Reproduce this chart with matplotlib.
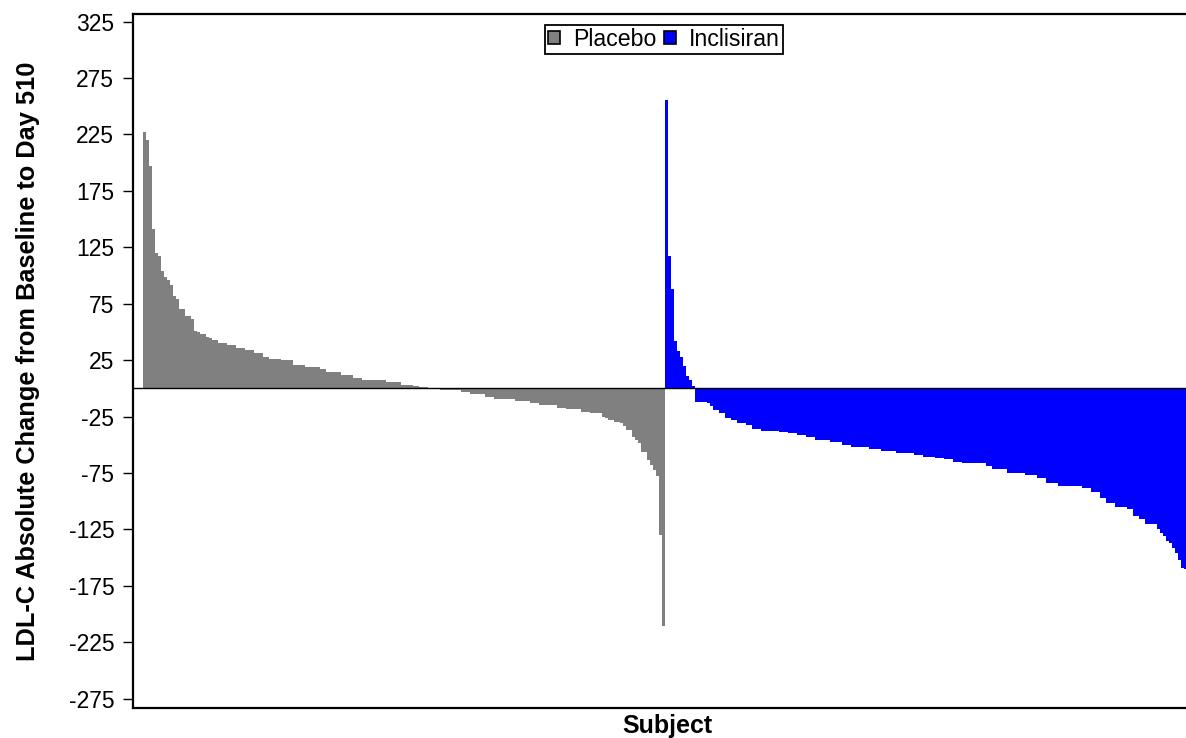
import matplotlib
matplotlib.use("Agg")
import matplotlib.pyplot as plt
from matplotlib.patches import Patch

plt.rcParams['font.family'] = ['Liberation Sans', 'DejaVu Sans']

groups = ["Placebo", "Inclisiran"]
colors = {"Placebo": "#808080", "Inclisiran": "#0000FF"}

placebo = [
    227, 220, 197, 141, 120, 117, 104, 99, 96, 92,
    82, 79, 70, 70, 64, 64, 61, 51, 50, 48,
    48, 45.5, 45, 43, 43, 40, 40, 40, 38, 38,
    38, 36, 36, 36, 34, 34, 34, 31, 31, 31,
    28, 28, 26, 26, 26, 26, 25, 25, 25, 25,
    21, 21, 21, 21, 19, 18.6, 18.6, 18.6, 18.6, 17,
    17, 14.5, 14.5, 14.5, 14.5, 14.5, 12, 12, 12, 12,
    9, 9, 9, 7, 7, 7, 7, 7, 7, 7,
    7, 6, 6, 6, 6, 6, 3, 3, 3, 3,
    1.8, 1.8, 1.5, 1, 1, -0.5, -0.5, -0.5, -0.5, -1.2,
    -1.2, -1.2, -1.2, -1.2, -1.2, -1.2, -3, -3, -3, -5.4,
    -5.4, -5.4, -5.4, -5.4, -7.5, -7.5, -7.5, -9.6, -9.6, -9.6,
    -9.6, -9.6, -9.6, -9.6, -11.3, -11.3, -11.3, -11.3, -11.3, -13.4,
    -13.4, -13.4, -14.9, -14.9, -14.9, -14.9, -14.9, -14.9, -17.3, -17.3,
    -17.3, -18.4, -18.4, -18.4, -18.4, -18.4, -21.4, -21.4, -21.4, -22.3,
    -22.3, -22.3, -22.3, -25.8, -26, -28.2, -28.2, -30.2, -30.2, -31,
    -33.2, -37, -37, -43, -46, -48.9, -56.3, -56.3, -63.7, -68,
    -72.6, -78, -130, -211,
]

inclisiran = [
    256, 117, 88, 42, 33, 28, 20, 11, 7, 2,
    -12, -12, -12, -12, -13.4, -16, -19.3, -19.3, -22.3, -22.3,
    -26.7, -26.7, -28.2, -28.2, -30.6, -30.6, -30.6, -32.6, -32.6, -36.4,
    -36.4, -36.4, -37.7, -37.7, -37.7, -37.7, -37.7, -37.7, -39.1, -39.1,
    -39.1, -40, -40, -40, -41.5, -41.5, -41.5, -43, -43, -43,
    -45.9, -45.9, -45.9, -45.9, -45.9, -47.4, -47.4, -47.4, -47.4, -50.4,
    -50.4, -50.4, -52.4, -52.4, -52.4, -52.4, -52.4, -52.4, -54.2, -54.2,
    -54.2, -54.2, -55.4, -55.4, -55.4, -55.4, -55.4, -57.7, -57.7, -57.7,
    -57.7, -57.7, -57.7, -59.2, -59.2, -59.2, -60.7, -60.7, -60.7, -60.7,
    -62.1, -62.1, -62.1, -63, -63, -63, -65.2, -65.2, -65.2, -66.6,
    -66.6, -66.6, -66.6, -66.6, -66.6, -66.6, -66.6, -69, -69, -71.6,
    -71.6, -71.6, -71.6, -71.6, -74.9, -74.9, -74.9, -74.9, -74.9, -74.9,
    -76.9, -76.9, -76.9, -76.9, -79.9, -79.9, -79.9, -83.8, -83.8, -83.8,
    -83.8, -86.7, -86.7, -86.7, -86.7, -86.7, -86.7, -86.7, -86.7, -88.7,
    -88.7, -88.7, -91.7, -91.7, -91.7, -97.6, -97.6, -102, -102, -102,
    -105, -105, -105, -105, -107.4, -107.4, -113.3, -113.3, -116.3, -116.3,
    -120.7, -120.7, -120.7, -120.7, -124.3, -128.7, -131, -135, -137.5, -142,
    -146, -152, -159, -160,
]

yticks = list(range(-275, 326, 50))

W, H = 1186, 738
fig = plt.figure(figsize=(W / 100, H / 100), dpi=100)
ax = fig.add_axes([133 / W, 1 - 708 / H, (1192 - 133) / W, (708 - 14) / H])

n_p = len(placebo)
x_p = list(range(n_p))
x_i = [n_p + k for k in range(len(inclisiran))]
ax.bar(x_p, placebo, width=1.0, color=colors["Placebo"], linewidth=0)
ax.bar(x_i, inclisiran, width=1.0, color=colors["Inclisiran"], linewidth=0)

ax.axhline(0, color="black", linewidth=1.0)

ax.set_xlim(-3.93, 349.07)
ax.set_ylim(-283.4, 331.8)
ax.set_yticks(yticks)
ax.set_yticklabels([str(t) for t in yticks], fontsize=16.5)
ax.set_xticks([])
ax.tick_params(axis="y", direction="out", length=7.5, width=1, pad=6)

for s in ax.spines.values():
    s.set_linewidth(1.6)
    s.set_color("black")

ax.set_ylabel("LDL-C Absolute Change from Baseline to Day 510", fontsize=18.3,
              fontweight="bold")
ax.yaxis.set_label_coords((40 - 133) / 1059, 0.5)
ax.set_xlabel("Subject", fontsize=18, fontweight="bold")
ax.xaxis.set_label_coords((667 - 133) / 1059, -0.009)

handles = [Patch(facecolor=colors[g], edgecolor="black", linewidth=1.2, label=g) for g in groups]
leg = fig.legend(handles=handles, loc="upper center", bbox_to_anchor=(664 / W, 1 - 25 / H),
                 ncol=2, fontsize=16.7, frameon=True, fancybox=False, edgecolor="black",
                 framealpha=1, handlelength=0.52, handleheight=0.52, handletextpad=0.55,
                 columnspacing=0.35, borderpad=0.12, borderaxespad=0)
leg.get_frame().set_linewidth(1.3)

fig.savefig("out.png", dpi=100)
